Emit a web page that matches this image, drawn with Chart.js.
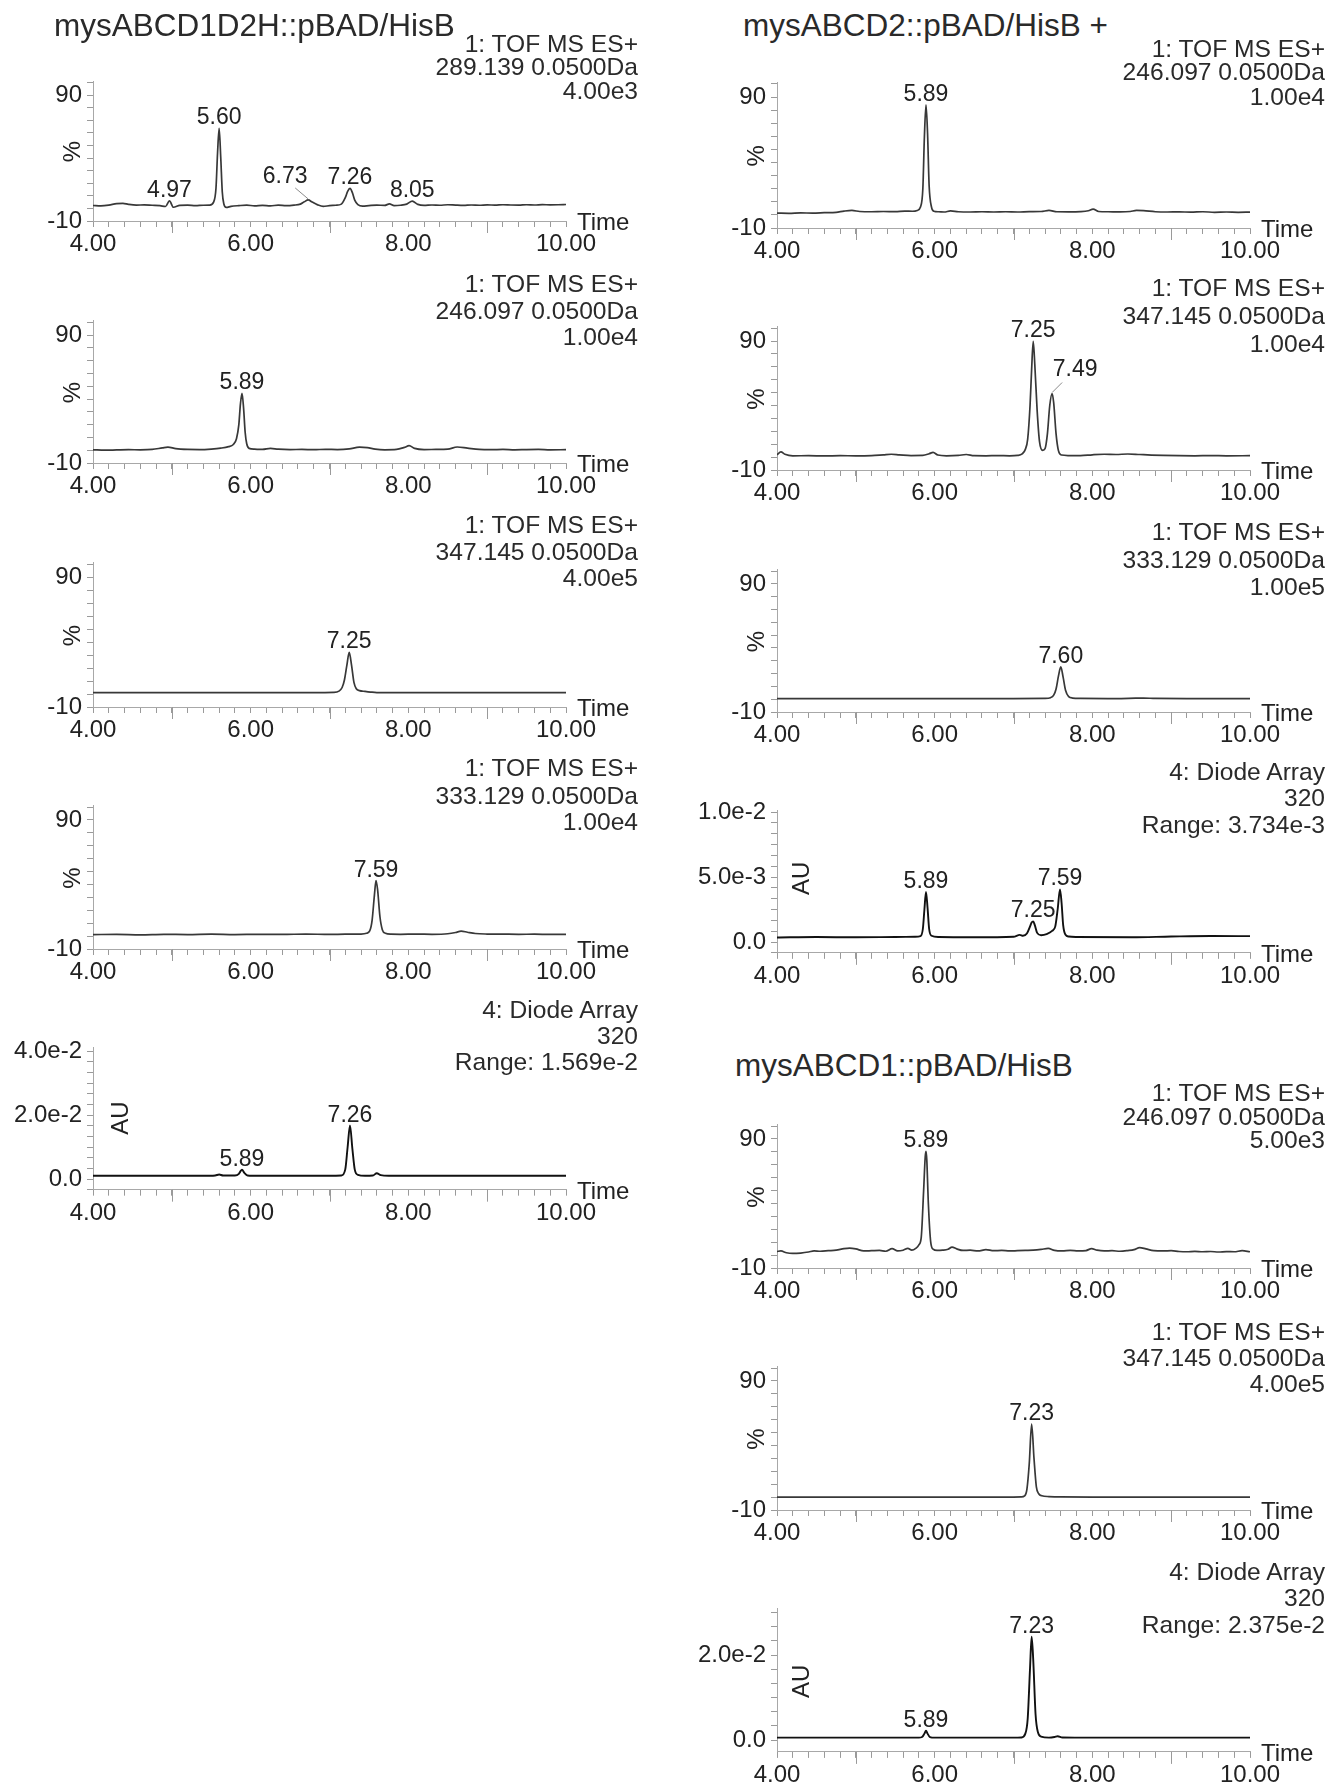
<!DOCTYPE html>
<html><head><meta charset="utf-8">
<script src="https://cdn.jsdelivr.net/npm/chart.js@4.4.1/dist/chart.umd.min.js"></script>
<style>
html,body{margin:0;padding:0;background:#fff;}
body{width:1338px;height:1791px;position:relative;overflow:hidden;font-family:'Liberation Sans',Arial,Helvetica,sans-serif;color:#222;}
canvas{position:absolute;}
.t{position:absolute;white-space:nowrap;}
.title{font-size:31.5px;line-height:34px;color:#2a2a2a;}
.hd{font-size:24.6px;line-height:24px;text-align:right;color:#2a2a2a;}
</style></head><body>
<script>
// ---------------- DATA ----------------
// x axis (retention time, min)
const X_LABEL_VALUES = [4, 6, 8, 10];
const X_LABEL_TEXT = ['4.00', '6.00', '8.00', '10.00'];
const X_LONG_TICKS = [5, 7, 9];
// MS panels y axis (%)
const MS_Y_TICKS = [-10, 0, 10, 20, 30, 40, 50, 60, 70, 80, 90, 100];
const MS_Y_LABEL_VALUES = [-10, 90];
const MS_Y_LABEL_TEXT = ['-10', '90'];
// Diode array y axes (AU)
const L5_Y_LABEL_VALUES = [0, 0.02, 0.04];
const L5_Y_LABEL_TEXT = ['0.0', '2.0e-2', '4.0e-2'];
const R4_Y_LABEL_VALUES = [0, 0.005, 0.01];
const R4_Y_LABEL_TEXT = ['0.0', '5.0e-3', '1.0e-2'];
const R7_Y_LABEL_VALUES = [0, 0.02];
const R7_Y_LABEL_TEXT = ['0.0', '2.0e-2'];

// mysABCD1D2H::pBAD/HisB, 289.139
const L1_t = [4.00,4.10,4.20,4.30,4.38,4.45,4.55,4.65,4.75,4.85,4.92,4.97,5.02,5.10,5.20,5.30,5.40,5.48,5.53,5.56,5.58,5.60,5.62,5.64,5.66,5.69,5.75,5.85,5.95,6.05,6.15,6.25,6.35,6.45,6.55,6.63,6.68,6.73,6.78,6.85,6.92,7.00,7.08,7.15,7.20,7.23,7.26,7.29,7.32,7.36,7.42,7.50,7.60,7.70,7.76,7.82,7.90,7.98,8.05,8.12,8.20,8.30,8.40,8.50,8.60,8.70,8.80,8.90,9.00,9.10,9.20,9.30,9.40,9.50,9.60,9.70,9.80,9.90,10.00];
const L1_v = [2.3,2.0,2.6,3.8,4.0,3.2,2.6,2.8,2.5,2.2,1.5,5.9,0.9,2.4,2.6,2.2,2.5,2.6,5,16,44,63.5,41,13,3.5,0.8,1.6,2.2,2.6,2.0,2.4,2.0,2.6,2.2,2.6,3.4,5.2,6.7,5.0,2.8,1.6,2.2,2.5,3.4,8.5,13.5,15.9,12.5,6.5,3.0,1.8,2.2,2.6,2.4,3.6,2.2,2.5,3.4,5.8,3.2,2.4,2.7,2.5,2.9,2.6,2.4,2.7,2.5,2.8,2.6,2.9,2.7,2.6,2.9,2.7,3.0,2.8,2.9,3.1];
const L1_peaks = ['4.97','5.60','6.73','7.26','8.05'];
// 246.097
const L2_t = [4.00,4.15,4.30,4.45,4.60,4.75,4.88,4.95,5.05,5.20,5.35,5.50,5.62,5.72,5.78,5.82,5.85,5.87,5.89,5.91,5.93,5.95,5.98,6.05,6.15,6.25,6.35,6.50,6.65,6.80,6.95,7.10,7.25,7.38,7.48,7.58,7.70,7.85,7.95,8.01,8.08,8.20,8.35,8.50,8.62,8.75,8.90,9.05,9.20,9.35,9.50,9.65,9.80,10.00];
const L2_v = [0.3,0.0,0.2,0.4,0.3,0.6,1.8,2.4,1.2,0.6,0.5,0.9,1.6,2.8,4.5,9,20,36,44.5,33,14,5,1.4,0.8,0.6,1.4,0.8,0.5,0.6,0.4,0.7,0.5,1.0,2.4,2.0,0.8,0.3,0.6,2.2,3.5,1.4,0.5,0.6,0.8,2.5,1.6,0.6,0.4,0.6,0.3,0.5,0.6,0.3,0.4];
const L2_peaks = ['5.89'];
// 347.145
const L3_t = [4.00,5.00,6.00,6.80,7.05,7.12,7.16,7.19,7.22,7.25,7.28,7.31,7.34,7.38,7.45,7.52,7.60,8.00,9.00,10.00];
const L3_v = [1.1,1.1,1.1,1.1,1.3,2.2,5,11,22,32,22,9,4,2.6,2.0,1.5,1.1,1.1,1.1,1.1];
const L3_peaks = ['7.25'];
// 333.129
const L4_t = [4.00,4.30,4.60,4.90,5.20,5.50,5.80,6.10,6.40,6.70,7.00,7.20,7.40,7.47,7.51,7.54,7.57,7.59,7.61,7.64,7.67,7.71,7.78,7.90,8.10,8.30,8.50,8.60,8.67,8.75,8.85,9.00,9.20,9.40,9.60,9.80,10.00];
const L4_v = [1.2,1.3,1.0,1.4,1.2,1.5,1.2,1.4,1.3,1.6,1.3,1.5,1.6,2.2,4,12,32,43,36,15,5,2.2,1.5,1.4,1.6,1.4,1.8,2.8,3.9,3.0,2.0,1.6,1.5,1.4,1.5,1.3,1.4];
const L4_peaks = ['7.59'];
// Diode array 320
const L5_t = [4.00,4.50,5.00,5.40,5.55,5.60,5.65,5.80,5.85,5.87,5.89,5.92,5.96,6.10,6.50,7.00,7.15,7.20,7.23,7.26,7.29,7.32,7.36,7.45,7.55,7.60,7.65,7.75,8.50,9.50,10.00];
const L5_v = [0.0010,0.0010,0.0010,0.0010,0.0011,0.0014,0.0011,0.0011,0.0016,0.0024,0.0029,0.0019,0.0011,0.0010,0.0010,0.0010,0.0011,0.0030,0.0100,0.0167,0.0095,0.0030,0.0013,0.0010,0.0011,0.0018,0.0012,0.0010,0.0010,0.0010,0.0010];
const L5_peaks = ['5.89','7.26'];

// mysABCD2::pBAD/HisB +, 246.097
const R1_t = [4.00,4.15,4.30,4.45,4.60,4.75,4.85,4.95,5.05,5.20,5.35,5.50,5.62,5.72,5.78,5.82,5.85,5.87,5.89,5.91,5.93,5.96,5.99,6.05,6.12,6.20,6.30,6.45,6.60,6.75,6.90,7.05,7.20,7.35,7.45,7.55,7.70,7.85,7.95,8.01,8.08,8.20,8.35,8.48,8.56,8.65,8.80,8.95,9.10,9.25,9.40,9.55,9.70,9.85,10.00];
const R1_v = [1.4,1.2,1.5,1.4,1.7,2.0,2.9,3.4,2.6,2.4,2.6,2.5,2.9,2.8,3.4,6,20,60,84,62,22,6,2.8,2.4,2.2,3.0,2.4,2.2,2.4,2.2,2.4,2.2,2.5,2.6,3.4,2.4,2.3,2.5,3.2,4.4,2.6,2.4,2.3,2.6,3.4,3.2,2.4,2.2,2.3,2.1,2.4,2.0,2.2,2.0,2.1];
const R1_peaks = ['5.89'];
// 347.145
const R2_t = [4.00,4.05,4.10,4.20,4.40,4.60,4.80,5.00,5.20,5.35,5.45,5.55,5.70,5.85,5.93,5.98,6.04,6.15,6.30,6.40,6.50,6.65,6.80,6.95,7.05,7.11,7.15,7.18,7.21,7.23,7.25,7.27,7.30,7.33,7.37,7.40,7.43,7.46,7.49,7.51,7.54,7.57,7.61,7.70,7.85,8.00,8.15,8.30,8.45,8.60,8.75,8.90,9.10,9.30,9.50,9.70,10.00];
const R2_v = [1.8,4.0,2.2,1.0,1.1,0.9,1.1,1.0,1.2,1.8,2.2,1.8,1.2,1.3,2.6,3.7,1.6,1.0,1.3,2.0,1.1,1.0,1.2,1.0,1.3,2.5,6,14,40,68,89.7,72,36,12,5.2,6.5,18,40,49.3,42,18,5,1.6,1.2,1.1,1.8,2.2,2.0,2.4,2.0,1.6,1.3,1.1,1.0,1.2,1.0,1.1];
const R2_peaks = ['7.25','7.49'];
// 333.129
const R3_t = [4.00,5.00,6.00,7.00,7.40,7.47,7.51,7.54,7.57,7.60,7.63,7.66,7.70,7.75,7.85,8.30,8.55,8.65,8.80,9.20,10.00];
const R3_v = [0.5,0.5,0.5,0.5,0.6,1.2,3.2,8,18,25.3,17,7,2,0.9,0.6,0.5,0.8,0.9,0.6,0.5,0.5];
const R3_peaks = ['7.60'];
// Diode array 320
const R4_t = [4.00,4.50,5.00,5.50,5.75,5.82,5.85,5.87,5.89,5.91,5.93,5.96,6.05,6.50,7.00,7.08,7.12,7.17,7.21,7.23,7.25,7.27,7.30,7.35,7.42,7.49,7.53,7.56,7.59,7.61,7.63,7.66,7.70,7.80,8.50,9.00,9.50,10.00];
const R4_v = [0.00035,0.00038,0.00036,0.00038,0.00040,0.00045,0.0010,0.0025,0.00385,0.0026,0.0010,0.00048,0.00038,0.00036,0.00040,0.00055,0.00048,0.00065,0.00120,0.00150,0.00159,0.00130,0.00070,0.00052,0.00060,0.00085,0.0012,0.0025,0.00405,0.0030,0.0013,0.00055,0.00042,0.00038,0.00036,0.00042,0.00046,0.00045];
const R4_peaks = ['5.89','7.25','7.59'];

// mysABCD1::pBAD/HisB, 246.097
const R5_t = [4.00,4.05,4.12,4.20,4.30,4.40,4.47,4.55,4.65,4.75,4.85,4.92,5.00,5.10,5.20,5.30,5.38,5.46,5.53,5.60,5.66,5.71,5.76,5.80,5.83,5.86,5.88,5.89,5.90,5.92,5.95,5.98,6.03,6.10,6.17,6.22,6.28,6.36,6.45,6.55,6.65,6.75,6.85,6.95,7.05,7.15,7.25,7.35,7.44,7.52,7.62,7.72,7.82,7.92,7.99,8.06,8.15,8.25,8.35,8.45,8.53,8.60,8.68,8.78,8.90,9.00,9.10,9.20,9.30,9.40,9.50,9.60,9.70,9.80,9.90,10.00];
const R5_v = [2.8,3.2,1.8,1.3,1.6,2.4,3.3,3.0,3.4,3.8,5.0,5.4,4.8,3.2,3.4,3.6,3.0,5.0,3.2,3.8,5.2,3.8,5.2,8,14,50,76,80.4,74,40,10,4.6,3.6,3.8,4.5,6.2,4.8,3.6,3.8,3.2,4.2,3.4,3.6,3.2,3.4,3.6,3.8,4.4,5.2,3.6,3.2,3.6,3.2,3.5,5.0,3.8,3.2,3.4,3.0,3.5,4.2,5.8,4.8,3.4,3.2,3.4,2.8,2.6,2.9,2.6,2.8,2.4,2.7,2.6,3.4,2.6];
const R5_peaks = ['5.89'];
// 347.145
const R6_t = [4.00,5.00,6.00,7.00,7.10,7.14,7.17,7.20,7.23,7.26,7.29,7.32,7.36,7.45,7.60,8.00,9.00,10.00];
const R6_v = [0,0,0,0,0.1,0.9,6,26,56.5,30,8,2.6,1.0,0.4,0.1,0,0,0];
const R6_peaks = ['7.23'];
// Diode array 320
const R7_t = [4.00,4.50,5.00,5.50,5.80,5.84,5.87,5.89,5.91,5.94,6.00,6.50,7.00,7.10,7.15,7.18,7.21,7.23,7.25,7.28,7.31,7.35,7.45,7.52,7.56,7.62,8.00,9.00,10.00];
const R7_v = [0.00055,0.00055,0.00055,0.00055,0.00055,0.0007,0.0015,0.0022,0.0015,0.0007,0.00055,0.00055,0.00055,0.0006,0.0015,0.0050,0.0170,0.0243,0.0190,0.0060,0.0018,0.0008,0.00055,0.0007,0.0009,0.0006,0.00055,0.00055,0.00055];
const R7_peaks = ['5.89','7.23'];

// ---------------- LAYOUT / STYLE ----------------
const FAMILY = "'Liberation Sans', Arial, Helvetica, sans-serif";
const TEXT = '#222';
const AXIS = '#a8a8a8';
const TICK = '#9a9a9a';
const MS_LINE = '#383838';
const DA_LINE = '#111';

const COLS = {
  L: {cLeft: 0, cWidth: 672, pLeft: 93, pRight: 566, headRight: 638},
  R: {cLeft: 678, cWidth: 660, pLeft: 777, pRight: 1250, headRight: 1325}
};

const TITLES = [
  {text: 'mysABCD1D2H::pBAD/HisB', x: 54, y: 25},
  {text: 'mysABCD2::pBAD/HisB +', x: 743, y: 25},
  {text: 'mysABCD1::pBAD/HisB', x: 735, y: 1065}
];

const PANELS = [
  {col:'L', kind:'ms', t:L1_t, v:L1_v, peaks:L1_peaks, y90:95, bottom:221,
   head:['1: TOF MS ES+','289.139 0.0500Da','4.00e3'], headY:[44,67,91],
   offsets:{'6.73':{dx:-23, dy:-13, lx:10, ly:5}}},
  {col:'L', kind:'ms', t:L2_t, v:L2_v, peaks:L2_peaks, y90:335, bottom:463,
   head:['1: TOF MS ES+','246.097 0.0500Da','1.00e4'], headY:[284,311,337]},
  {col:'L', kind:'ms', t:L3_t, v:L3_v, peaks:L3_peaks, y90:577, bottom:707,
   head:['1: TOF MS ES+','347.145 0.0500Da','4.00e5'], headY:[525,552,578]},
  {col:'L', kind:'ms', t:L4_t, v:L4_v, peaks:L4_peaks, y90:820, bottom:949,
   head:['1: TOF MS ES+','333.129 0.0500Da','1.00e4'], headY:[768,796,822]},
  {col:'L', kind:'da', t:L5_t, v:L5_v, peaks:L5_peaks, yMin:-0.02/6, yMax:0.0411, step:0.02/6,
   zeroPx:1179, refVal:0.02, refPx:1115, labVals:L5_Y_LABEL_VALUES, labTxt:L5_Y_LABEL_TEXT, auAt:0.019, auDx:28,
   head:['4: Diode Array','320','Range: 1.569e-2'], headY:[1010,1036,1062]},

  {col:'R', kind:'ms', t:R1_t, v:R1_v, peaks:R1_peaks, y90:97, bottom:228,
   head:['1: TOF MS ES+','246.097 0.0500Da','1.00e4'], headY:[49,72,97]},
  {col:'R', kind:'ms', t:R2_t, v:R2_v, peaks:R2_peaks, y90:341, bottom:470,
   head:['1: TOF MS ES+','347.145 0.0500Da','1.00e4'], headY:[288,316,344],
   offsets:{'7.49':{dx:23, dy:-14, lx:-13, ly:7}}},
  {col:'R', kind:'ms', t:R3_t, v:R3_v, peaks:R3_peaks, y90:584, bottom:712,
   head:['1: TOF MS ES+','333.129 0.0500Da','1.00e5'], headY:[532,560,587]},
  {col:'R', kind:'da', t:R4_t, v:R4_v, peaks:R4_peaks, yMin:-0.005/6, yMax:0.0101, step:0.005/6,
   zeroPx:942, refVal:0.005, refPx:877, labVals:R4_Y_LABEL_VALUES, labTxt:R4_Y_LABEL_TEXT, auAt:0.0049, auDx:25,
   head:['4: Diode Array','320','Range: 3.734e-3'], headY:[772,798,825]},
  {col:'R', kind:'ms', t:R5_t, v:R5_v, peaks:R5_peaks, y90:1139, bottom:1268,
   head:['1: TOF MS ES+','246.097 0.0500Da','5.00e3'], headY:[1093,1117,1140]},
  {col:'R', kind:'ms', t:R6_t, v:R6_v, peaks:R6_peaks, y90:1381, bottom:1510,
   head:['1: TOF MS ES+','347.145 0.0500Da','4.00e5'], headY:[1332,1358,1384]},
  {col:'R', kind:'da', t:R7_t, v:R7_v, peaks:R7_peaks, yMin:-0.0028, yMax:0.031, step:0.02/6,
   zeroPx:1740, refVal:0.02, refPx:1655, labVals:R7_Y_LABEL_VALUES, labTxt:R7_Y_LABEL_TEXT, auAt:0.0138, auDx:25,
   head:['4: Diode Array','320','Range: 2.375e-2'], headY:[1572,1598,1625]}
];

// ---------------- RENDER ----------------
Chart.defaults.font.family = FAMILY;
Chart.defaults.color = TEXT;

const decor = {
  id: 'decor',
  afterDraw(chart, args, o) {
    const ctx = chart.ctx, xs = chart.scales.x, ys = chart.scales.y, ca = chart.chartArea;
    ctx.save();
    // longer ticks on odd minutes
    ctx.strokeStyle = TICK; ctx.lineWidth = 1;
    X_LONG_TICKS.forEach(v => {
      const px = Math.round(xs.getPixelForValue(v)) + 0.5;
      ctx.beginPath(); ctx.moveTo(px, ca.bottom); ctx.lineTo(px, ca.bottom + 12); ctx.stroke();
    });
    // "Time"
    ctx.fillStyle = TEXT;
    ctx.font = '24px ' + FAMILY; ctx.textAlign = 'left'; ctx.textBaseline = 'alphabetic';
    ctx.fillText('Time', ca.right + 11, ca.bottom + 9);
    // y title
    ctx.save();
    ctx.font = o.yTitleSize + 'px ' + FAMILY;
    ctx.translate(ca.left + o.yTitleDx, ys.getPixelForValue(o.yTitleAt));
    ctx.rotate(-Math.PI / 2);
    ctx.textAlign = 'center'; ctx.textBaseline = 'middle';
    ctx.fillText(o.yTitle, 0, 0);
    ctx.restore();
    // peak labels
    const pts = chart.data.datasets[0].data;
    ctx.font = '23px ' + FAMILY; ctx.textAlign = 'center'; ctx.textBaseline = 'alphabetic';
    o.peaks.forEach(lab => {
      const t = parseFloat(lab);
      let best = null;
      pts.forEach(p => { if (Math.abs(p.x - t) <= 0.035 && (!best || p.y > best.y)) best = p; });
      if (!best) return;
      const px = xs.getPixelForValue(best.x), py = ys.getPixelForValue(best.y);
      let lx = px, ly = py - 4;
      const off = o.offsets && o.offsets[lab];
      if (off) {
        lx += off.dx; ly += off.dy;
        ctx.save(); ctx.strokeStyle = '#8a8a8a'; ctx.lineWidth = 1;
        ctx.beginPath(); ctx.moveTo(lx + off.lx, ly + off.ly); ctx.lineTo(px, py - 1); ctx.stroke();
        ctx.restore();
      }
      ctx.fillText(lab, lx, ly);
    });
    ctx.restore();
  }
};

function addText(cls, text, styles) {
  const d = document.createElement('div');
  d.className = 't ' + cls;
  d.textContent = text;
  Object.assign(d.style, styles);
  document.body.appendChild(d);
}

function near(list, v, tol) {
  for (let i = 0; i < list.length; i++) if (Math.abs(list[i] - v) < tol) return i;
  return -1;
}

PANELS.forEach(p => {
  const c = COLS[p.col];
  let yMin, yMax, top, bottom, yTicks, labVals, labTxt, tol;
  if (p.kind === 'ms') {
    yMin = -10; yMax = 101;
    const ppu = (p.bottom - p.y90) / 100;
    top = p.y90 - (yMax - 90) * ppu; bottom = p.bottom;
    yTicks = MS_Y_TICKS; labVals = MS_Y_LABEL_VALUES; labTxt = MS_Y_LABEL_TEXT; tol = 1e-6;
  } else {
    yMin = p.yMin; yMax = p.yMax;
    const ppu = (p.zeroPx - p.refPx) / p.refVal;
    top = p.zeroPx - yMax * ppu; bottom = p.zeroPx - yMin * ppu;
    yTicks = [];
    for (let k = Math.ceil(yMin / p.step - 1e-6); k * p.step <= yMax + 1e-12; k++) yTicks.push(k * p.step);
    labVals = p.labVals; labTxt = p.labTxt; tol = p.step * 1e-3;
  }
  const cTop = Math.floor(top - 34);
  const cBottom = Math.ceil(bottom + 48);
  const H = cBottom - cTop;
  const cv = document.createElement('canvas');
  cv.width = c.cWidth; cv.height = H;
  cv.style.left = c.cLeft + 'px'; cv.style.top = cTop + 'px';
  cv.style.width = c.cWidth + 'px'; cv.style.height = H + 'px';
  document.body.appendChild(cv);

  const xTicks = [];
  for (let i = 0; i <= 30; i++) xTicks.push(Math.round((4 + i * 0.2) * 1000) / 1000);

  const data = p.t.map((tt, i) => ({x: tt, y: p.v[i]}));

  new Chart(cv, {
    type: 'line',
    data: {datasets: [{
      data: data,
      borderColor: p.kind === 'ms' ? MS_LINE : DA_LINE,
      borderWidth: p.kind === 'ms' ? 1.7 : 1.9,
      pointRadius: 0,
      fill: false,
      tension: 0.3,
      cubicInterpolationMode: 'monotone'
    }]},
    options: {
      responsive: false,
      animation: false,
      devicePixelRatio: 1,
      events: [],
      layout: {padding: {left: 0, top: top - cTop, right: c.cLeft + c.cWidth - c.pRight, bottom: 0}},
      plugins: {
        legend: {display: false},
        tooltip: {enabled: false},
        decor: {
          peaks: p.peaks, offsets: p.offsets || null,
          yTitle: p.kind === 'ms' ? '%' : 'AU',
          yTitleAt: p.kind === 'ms' ? 45 : p.auAt,
          yTitleDx: p.kind === 'ms' ? -20 : p.auDx,
          yTitleSize: 24
        }
      },
      scales: {
        x: {
          type: 'linear', min: 4, max: 10, bounds: 'data',
          afterBuildTicks: s => { s.ticks = xTicks.map(v => ({value: v})); },
          afterFit: s => { s.height = cBottom - bottom; },
          ticks: {
            autoSkip: false, maxRotation: 0, minRotation: 0, padding: 3,
            color: TEXT, font: {size: 24, family: FAMILY},
            callback: v => { const i = near(X_LABEL_VALUES, v, 1e-6); return i >= 0 ? X_LABEL_TEXT[i] : ''; }
          },
          grid: {drawOnChartArea: false, drawTicks: true, tickLength: 6, color: TICK, tickColor: TICK, lineWidth: 1},
          border: {display: true, color: AXIS, width: 1}
        },
        y: {
          type: 'linear', min: yMin, max: yMax, bounds: 'data',
          afterBuildTicks: s => { s.ticks = yTicks.map(v => ({value: v})); },
          afterFit: s => { s.width = c.pLeft - c.cLeft; },
          ticks: {
            autoSkip: false, padding: 5,
            color: TEXT, font: {size: 24, family: FAMILY},
            callback: v => { const i = near(labVals, v, tol); return i >= 0 ? labTxt[i] : ''; }
          },
          grid: {drawOnChartArea: false, drawTicks: true, tickLength: 6, color: TICK, tickColor: TICK, lineWidth: 1},
          border: {display: true, color: AXIS, width: 1}
        }
      }
    },
    plugins: [decor]
  });

  p.head.forEach((line, i) => {
    addText('hd', line, {right: (1338 - c.headRight) + 'px', top: (p.headY[i] - 12) + 'px'});
  });
});

TITLES.forEach(tl => addText('title', tl.text, {left: tl.x + 'px', top: (tl.y - 17) + 'px'}));
</script>
</body></html>
